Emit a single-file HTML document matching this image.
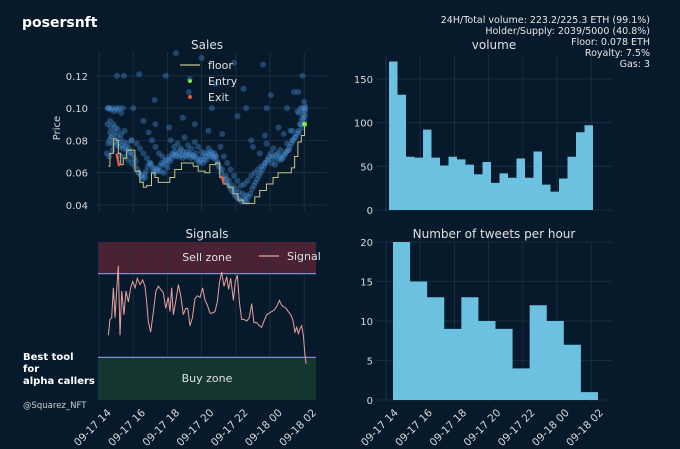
<!DOCTYPE html>
<html><head><meta charset="utf-8">
<style>
html,body{margin:0;padding:0;background:#071a2b;}
svg{display:block;font-family:"DejaVu Sans","Liberation Sans",sans-serif;}
</style></head>
<body>
<svg id="c" width="680" height="449" viewBox="0 0 680 449">
<rect width="680" height="449" fill="#071a2b"/>
<text x="22" y="27" font-size="14" font-weight="bold" fill="#ffffff">posersnft</text>
<g font-size="9.5" fill="#e6e6e6" text-anchor="end">
<text x="650" y="23">24H/Total volume: 223.2/225.3 ETH (99.1%)</text>
<text x="650" y="34">Holder/Supply: 2039/5000 (40.8%)</text>
<text x="650" y="45">Floor: 0.078 ETH</text>
<text x="650" y="56">Royalty: 7.5%</text>
<text x="650" y="67">Gas: 3</text>
</g>
<g fill="#ffffff">
<text x="23" y="360" font-weight="bold" font-size="10">Best tool</text>
<text x="23" y="372" font-weight="bold" font-size="10">for</text>
<text x="23" y="384" font-weight="bold" font-size="10">alpha callers</text>
<text x="23" y="408" font-size="8.5" fill="#cfcfcf">@Squarez_NFT</text>
</g>
</svg>
<script>
// ---- data ----
const volumeValues=[170,132,61,60,92,60,51,61,58,52,41,55,31,42,37,59,37,67,29,21,36,61,89,97];
const tweetValues=[20,15,13,9,13,10,9,4,12,10,7,1];
const hourTickLabels=["09-17 14","09-17 16","09-17 18","09-17 20","09-17 22","09-18 00","09-18 02"];
const priceTicks=[0.04,0.06,0.08,0.10,0.12];
const volumeTicks=[0,50,100,150];
const tweetTicks=[0,5,10,15,20];
const floorHours=[0.55,0.64,0.84,1.0,1.13,1.27,1.42,1.62,1.91,2.1,2.39,2.59,2.78,3.07,3.27,3.46,3.85,4.14,4.43,4.82,5.12,5.51,5.8,6.19,6.48,6.83,7.06,7.26,7.55,7.84,8.13,8.42,8.81,9.11,9.4,9.79,10.18,10.47,10.95,11.25,11.44,11.63,11.83,12.02];
const floorPrices=[0.064,0.072,0.081,0.080,0.072,0.065,0.069,0.074,0.074,0.061,0.054,0.051,0.052,0.060,0.057,0.054,0.054,0.057,0.062,0.066,0.066,0.064,0.061,0.060,0.065,0.066,0.057,0.053,0.051,0.047,0.043,0.041,0.041,0.045,0.049,0.053,0.057,0.060,0.060,0.063,0.070,0.079,0.083,0.090];
const exitHours=[[1.03,1.18],[7.17,7.31]];
const exitPrices=[[0.072,0.064],[0.058,0.053]];
const entryHour=[12.02];const entryPrice=[0.090];
const saleHours=[0.5,0.6,0.7,0.8,0.9,1.0,1.1,1.2,1.3,1.4,0.5,0.7,0.9,1.1,1.3,1.5,0.6,0.8,1.0,1.2,1.4,1.6,1.8,0.6,0.7,0.8,1.0,1.2,1.5,1.7,1.9,2.1,2.3,2.5,2.7,1.9,2.2,2.4,2.6,2.8,3.0,3.2,3.4,3.6,3.8,4.0,2.9,3.1,3.3,3.5,3.7,3.9,4.1,4.3,4.5,4.7,4.9,5.1,5.3,5.5,5.7,5.9,6.1,6.3,6.5,6.7,6.9,4.2,4.4,4.6,4.8,5.0,5.2,5.4,5.6,5.8,6.0,6.2,6.4,6.6,6.8,7.0,7.2,7.4,7.6,7.8,8.0,8.2,8.4,8.6,7.1,7.3,7.5,7.7,7.9,8.1,8.3,8.5,8.7,8.9,9.1,9.3,9.5,9.7,9.9,10.1,10.3,10.5,10.7,10.9,11.1,9.0,9.4,9.8,10.2,10.6,11.0,11.3,11.5,11.7,11.9,12.0,12.05,11.6,11.8,11.95,12.05,12.0,11.4,11.2,10.8,1.9,2.6,3.3,4.1,4.9,5.6,6.4,7.2,8.1,8.9,9.7,10.5,11.3,0.65,1.05,1.45,2.35,3.25,5.25,6.85,8.45,10.05,11.65,11.9,3.9,5.3,6.6,8.6,9.8,11.0,0.55,2.0,4.5,6.0,7.9,9.6];
const salePrices=[0.100,0.100,0.099,0.100,0.098,0.100,0.099,0.100,0.097,0.100,0.090,0.088,0.085,0.087,0.084,0.086,0.080,0.078,0.077,0.076,0.075,0.074,0.072,0.070,0.082,0.074,0.079,0.071,0.070,0.068,0.066,0.064,0.060,0.058,0.057,0.080,0.078,0.075,0.072,0.069,0.066,0.063,0.062,0.061,0.060,0.063,0.085,0.080,0.076,0.072,0.070,0.068,0.070,0.072,0.071,0.070,0.069,0.070,0.072,0.070,0.068,0.067,0.066,0.068,0.070,0.069,0.067,0.080,0.076,0.078,0.075,0.082,0.077,0.075,0.079,0.076,0.073,0.072,0.075,0.072,0.070,0.064,0.062,0.058,0.055,0.052,0.050,0.048,0.047,0.046,0.076,0.070,0.066,0.062,0.058,0.055,0.052,0.053,0.055,0.058,0.060,0.062,0.064,0.066,0.068,0.066,0.065,0.068,0.070,0.072,0.074,0.076,0.072,0.078,0.075,0.074,0.078,0.080,0.082,0.085,0.088,0.092,0.095,0.098,0.090,0.094,0.100,0.104,0.110,0.086,0.084,0.080,0.092,0.090,0.088,0.094,0.090,0.086,0.084,0.095,0.080,0.083,0.088,0.086,0.092,0.120,0.120,0.121,0.105,0.110,0.115,0.112,0.108,0.110,0.120,0.120,0.118,0.100,0.100,0.100,0.100,0.100,0.100,0.134,0.131,0.128,0.127,0.125,0.126];
const saleHoursB=[0.45,0.55,0.65,0.75,0.85,0.95,1.05,1.15,1.25,1.35,1.45,1.55,1.65,1.75,1.85,1.95,2.05,2.15,2.25,2.35,2.45,2.55,2.65,2.75,2.85,2.95,3.05,3.15,3.25,3.35,3.45,3.55,3.65,3.75,3.85,3.95,4.05,4.15,4.25,4.35,4.45,4.55,4.65,4.75,4.85,4.95,5.05,5.15,5.25,5.35,5.45,5.55,5.65,5.75,5.85,5.95,6.05,6.15,6.25,6.35,6.45,6.55,6.65,6.75,6.85,6.95,7.05,7.15,7.25,7.35,7.45,7.55,7.65,7.75,7.85,7.95,8.05,8.15,8.25,8.35,8.45,8.55,8.65,8.75,8.85,8.95,9.05,9.15,9.25,9.35,9.45,9.55,9.65,9.75,9.85,9.95,10.05,10.15,10.25,10.35,10.45,10.55,10.65,10.75,10.85,10.95,11.05,11.15,11.25,11.35,11.45,11.55,11.65,11.75,11.85,11.95,12.05,11.8,11.9,12.0,12.05,11.7];
const salePricesB=[0.072,0.078,0.085,0.082,0.090,0.088,0.083,0.079,0.081,0.077,0.079,0.076,0.078,0.075,0.073,0.071,0.069,0.067,0.062,0.060,0.058,0.056,0.059,0.061,0.064,0.066,0.065,0.062,0.060,0.062,0.061,0.064,0.066,0.065,0.067,0.065,0.068,0.067,0.069,0.071,0.073,0.070,0.072,0.074,0.071,0.073,0.071,0.073,0.071,0.069,0.071,0.070,0.072,0.069,0.066,0.068,0.070,0.068,0.070,0.072,0.071,0.073,0.070,0.072,0.070,0.066,0.063,0.060,0.057,0.055,0.056,0.053,0.051,0.049,0.048,0.046,0.045,0.044,0.043,0.042,0.044,0.043,0.042,0.045,0.047,0.050,0.052,0.054,0.056,0.058,0.060,0.062,0.064,0.066,0.068,0.070,0.072,0.070,0.069,0.071,0.072,0.070,0.068,0.069,0.071,0.073,0.074,0.076,0.078,0.080,0.082,0.084,0.086,0.090,0.093,0.096,0.098,0.100,0.100,0.099,0.101,0.097];
const signalHours=[.55,.64,.74,.84,.94,1.03,1.13,1.23,1.33,1.46,1.58,1.72,1.85,1.97,2.11,2.24,2.40,2.55,2.69,2.79,2.88,3.02,3.18,3.33,3.47,3.61,3.76,3.90,4.05,4.15,4.25,4.35,4.48,4.64,4.78,4.93,5.07,5.19,5.32,5.46,5.61,5.75,5.91,6.06,6.20,6.34,6.49,6.63,6.78,6.92,7.04,7.17,7.31,7.47,7.58,7.70,7.86,7.97,8.09,8.21,8.34,8.48,8.64,8.79,8.93,9.06,9.22,9.38,9.51,9.65,9.81,9.96,10.10,10.25,10.39,10.55,10.68,10.82,10.94,11.07,11.21,11.33,11.46,11.56,11.66,11.75,11.85,11.95,12.05,12.11];
const signalValues=[41,51,52,71,52,69,85,41,69,54,69,62,71,75,71,77,73,76,72,62,50,43,56,69,72,70,68,58,65,56,71,54,62,73,66,54,58,58,47,52,64,66,65,71,63,60,55,55,56,62,74,81,72,78,70,77,63,75,79,62,51,51,50,52,61,49,49,47,46,50,54,55,56,57,59,63,60,59,58,56,54,51,43,46,42,45,47,41,28,23];
const zoneBounds=[80,27]; // sell-zone line, buy-zone line (signal units)

// ---- helpers ----
const NS="http://www.w3.org/2000/svg";
const svg=document.getElementById('c');
function mk(tag,attrs,parent){const e=document.createElementNS(NS,tag);for(const k in attrs)e.setAttribute(k,attrs[k]);(parent||svg).appendChild(e);return e;}
function txt(s,attrs,parent){const e=mk('text',attrs,parent);e.textContent=s;return e;}
const GRID="#1e3347",TICK="#d8d8d8";

const xL=h=>99+h*17.1;
const xR=h=>386+h*17.1;

// ---- Sales ----
const ySales=p=>205-(p-0.04)/0.02*32.3;
const gS=mk('g',{});


txt('Sales',{x:207,y:49,'font-size':12,fill:'#e0e0e0','text-anchor':'middle'},gS);
for(let i=0;i<7;i++){const l=mk('line',{x1:xL(i*2),x2:xL(i*2),y1:52,y2:212,stroke:GRID,'stroke-width':0.8},gS);}
priceTicks.forEach(p=>{const l=mk('line',{x1:95,x2:327,y1:ySales(p),y2:ySales(p),stroke:GRID,'stroke-width':0.8},gS);
const t=txt(p.toFixed(2),{x:88,y:ySales(p)+4,'font-size':10,fill:TICK,'text-anchor':'end'},gS);});
const yt=txt('Price',{x:0,y:0,'font-size':10,fill:TICK,'text-anchor':'middle',transform:'translate(60,128) rotate(-90)'},gS);

function drawSales(hs,ps){hs.forEach((h,i)=>{const c=mk('circle',{cx:xL(h),cy:ySales(ps[i]),r:3,fill:'#4a8fd4','fill-opacity':0.38},gS);});}
drawSales(saleHours,salePrices);
drawSales(saleHoursB,salePricesB);
let fd='';
floorHours.forEach((h,i)=>{const x=xL(h),y=ySales(floorPrices[i]);if(i===0)fd+=`M${x},${y}`;else fd+=` H${x} V${y}`;});
const fl=mk('path',{d:fd,fill:'none',stroke:'#c8c48a','stroke-width':1},gS);

exitHours.forEach((hs,i)=>{const e=mk('line',{x1:xL(hs[0]),x2:xL(hs[1]),y1:ySales(exitPrices[i][0]),y2:ySales(exitPrices[i][1]),stroke:'#e05a4a','stroke-width':2.5},gS);});
entryHour.forEach((h,i)=>{const e=mk('circle',{cx:xL(h),cy:ySales(entryPrice[i]),r:2.5,fill:'#7de84a'},gS);});
const lg=mk('g',{'font-size':11},gS);

mk('line',{x1:180,x2:200,y1:65,y2:65,stroke:'#c8c48a','stroke-width':1.2},lg);
txt('floor',{x:208,y:69,'font-size':11,fill:'#e0e0e0'},lg);
mk('circle',{cx:190,cy:81,r:2,fill:'#7de84a'},lg);
txt('Entry',{x:208,y:85,'font-size':11,fill:'#e0e0e0'},lg);
mk('circle',{cx:190,cy:97,r:2,fill:'#e05a4a'},lg);
txt('Exit',{x:208,y:101,'font-size':11,fill:'#e0e0e0'},lg);

// ---- Signals ----
const ySig=v=>400-v*1.58;
const gG=mk('g',{});

txt('Signals',{x:207,y:238,'font-size':12,fill:'#e0e0e0','text-anchor':'middle'},gG);
const sz=mk('rect',{x:98,y:ySig(100),width:218,height:ySig(zoneBounds[0])-ySig(100),fill:'#4a2233'},gG);

const bz=mk('rect',{x:98,y:ySig(zoneBounds[1]),width:218,height:ySig(0)-ySig(zoneBounds[1]),fill:'#15362e'},gG);

for(let i=0;i<7;i++){const l=mk('line',{x1:xL(i*2),x2:xL(i*2),y1:242,y2:400,stroke:GRID,'stroke-width':0.8},gG);}
zoneBounds.forEach(b=>{const l=mk('line',{x1:98,x2:316,y1:ySig(b),y2:ySig(b),stroke:'#7a8fd0','stroke-width':1.2},gG);});
txt('Sell zone',{x:207,y:261,'font-size':11,fill:'#e0e0e0','text-anchor':'middle'},gG);
txt('Buy zone',{x:207,y:382,'font-size':11,fill:'#e0e0e0','text-anchor':'middle'},gG);
const sl=mk('polyline',{points:signalHours.map((h,i)=>xL(h)+','+ySig(signalValues[i])).join(' '),fill:'none',stroke:'#e8a0a0','stroke-width':1},gG);

mk('line',{x1:259,x2:279,y1:256,y2:256,stroke:'#e8a0a0','stroke-width':1.2},gG);
const sg=txt('Signal',{x:287,y:260,'font-size':11,fill:'#e0e0e0'},gG);

hourTickLabels.forEach((s,i)=>{const t=txt(s,{x:0,y:0,'font-size':10.5,fill:TICK,'text-anchor':'middle',transform:`translate(${xL(i*2)-4},${430}) rotate(-45)`},gG);});

// ---- Volume ----
const yVol=v=>210-v*0.8733;
const gV=mk('g',{});

txt('volume',{x:494,y:49,'font-size':12,fill:'#e0e0e0','text-anchor':'middle'},gV);
for(let i=0;i<7;i++){const l=mk('line',{x1:xR(i*2),x2:xR(i*2),y1:55,y2:212,stroke:GRID,'stroke-width':0.8},gV);}
volumeTicks.forEach(v=>{const l=mk('line',{x1:376,x2:612,y1:yVol(v),y2:yVol(v),stroke:GRID,'stroke-width':0.8},gV);
const t=txt(String(v),{x:373,y:yVol(v)+4,'font-size':10,fill:TICK,'text-anchor':'end'},gV);});
const vbw=(593-389)/volumeValues.length;
let vd='M389,'+yVol(0);
volumeValues.forEach((v,i)=>{vd+=` L${389+i*vbw},${yVol(v)} L${389+(i+1)*vbw},${yVol(v)}`;});
vd+=` L593,${yVol(0)} Z`;
const vp=mk('path',{d:vd,fill:'#6cc0e0'},gV);


// ---- Tweets ----
const yTw=v=>400-v*7.9;
const gT=mk('g',{});

txt('Number of tweets per hour',{x:494,y:238,'font-size':12,fill:'#e0e0e0','text-anchor':'middle'},gT);
for(let i=0;i<7;i++){const l=mk('line',{x1:xR(i*2),x2:xR(i*2),y1:242,y2:402,stroke:GRID,'stroke-width':0.8},gT);}
tweetTicks.forEach(v=>{const l=mk('line',{x1:376,x2:612,y1:yTw(v),y2:yTw(v),stroke:GRID,'stroke-width':0.8},gT);
const t=txt(String(v),{x:373,y:yTw(v)+4,'font-size':10,fill:TICK,'text-anchor':'end'},gT);});
const tbw=(598-393)/tweetValues.length;
let td='M393,'+yTw(0);
tweetValues.forEach((v,i)=>{td+=` L${393+i*tbw},${yTw(v)} L${393+(i+1)*tbw},${yTw(v)}`;});
td+=` L598,${yTw(0)} Z`;
const tp=mk('path',{d:td,fill:'#6cc0e0'},gT);

hourTickLabels.forEach((s,i)=>{const t=txt(s,{x:0,y:0,'font-size':10.5,fill:TICK,'text-anchor':'middle',transform:`translate(${xR(i*2)-4},${430}) rotate(-45)`},gT);});
</script>
</body></html>
